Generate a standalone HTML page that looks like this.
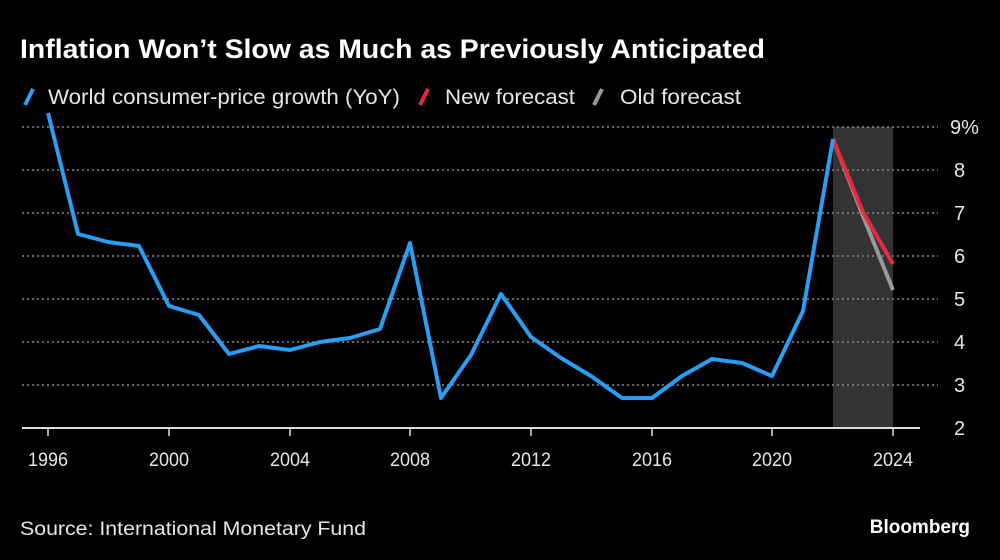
<!DOCTYPE html>
<html><head><meta charset="utf-8"><style>
body{margin:0;background:#000;width:1000px;height:560px;overflow:hidden}
svg{display:block}
text{font-family:"Liberation Sans",sans-serif;fill:#e6e6e6}
</style></head><body>
<svg width="1000" height="560" viewBox="0 0 1000 560">
<text x="20" y="58" textLength="745" lengthAdjust="spacingAndGlyphs" style="font-weight:bold;font-size:27px;fill:#fff">Inflation Won’t Slow as Much as Previously Anticipated</text>
<g font-size="21">
<line x1="25" y1="105" x2="33" y2="89" stroke="#2a9df4" stroke-width="4"/>
<text x="48" y="104" textLength="352" lengthAdjust="spacingAndGlyphs">World consumer-price growth (YoY)</text>
<line x1="420" y1="105" x2="428" y2="89" stroke="#e8283f" stroke-width="4"/>
<text x="445" y="104" textLength="130" lengthAdjust="spacingAndGlyphs">New forecast</text>
<line x1="594" y1="105" x2="602" y2="89" stroke="#999" stroke-width="4"/>
<text x="620" y="104" textLength="121" lengthAdjust="spacingAndGlyphs">Old forecast</text>
</g>
<rect x="833" y="127" width="60" height="301" fill="#333"/>
<g stroke="#888" stroke-width="1.5" stroke-dasharray="2,3">
<line x1="22" x2="938" y1="127" y2="127"/>
<line x1="22" x2="938" y1="170" y2="170"/>
<line x1="22" x2="938" y1="213" y2="213"/>
<line x1="22" x2="938" y1="256" y2="256"/>
<line x1="22" x2="938" y1="299" y2="299"/>
<line x1="22" x2="938" y1="342" y2="342"/>
<line x1="22" x2="938" y1="385" y2="385"/>
</g>
<line x1="22" x2="920" y1="428" y2="428" stroke="#ddd" stroke-width="2"/>
<g stroke="#ddd" stroke-width="1.5">
<line x1="48" x2="48" y1="428" y2="436"/><line x1="169" x2="169" y1="428" y2="436"/><line x1="290" x2="290" y1="428" y2="436"/><line x1="410" x2="410" y1="428" y2="436"/><line x1="531" x2="531" y1="428" y2="436"/><line x1="652" x2="652" y1="428" y2="436"/><line x1="772" x2="772" y1="428" y2="436"/><line x1="893" x2="893" y1="428" y2="436"/>
</g>
<g font-size="19" text-anchor="middle">
<text x="48" y="466" textLength="40" lengthAdjust="spacingAndGlyphs">1996</text><text x="169" y="466" textLength="40" lengthAdjust="spacingAndGlyphs">2000</text><text x="290" y="466" textLength="40" lengthAdjust="spacingAndGlyphs">2004</text><text x="410" y="466" textLength="40" lengthAdjust="spacingAndGlyphs">2008</text><text x="531" y="466" textLength="40" lengthAdjust="spacingAndGlyphs">2012</text><text x="652" y="466" textLength="40" lengthAdjust="spacingAndGlyphs">2016</text><text x="772" y="466" textLength="40" lengthAdjust="spacingAndGlyphs">2020</text><text x="893" y="466" textLength="40" lengthAdjust="spacingAndGlyphs">2024</text>
</g>
<g font-size="20">
<text x="950" y="134">9%</text><text x="954" y="177">8</text><text x="954" y="220">7</text><text x="954" y="263">6</text><text x="954" y="306">5</text><text x="954" y="349">4</text><text x="954" y="392">3</text><text x="954" y="435">2</text>
</g>
<polyline fill="none" stroke="#999" stroke-width="4" stroke-linejoin="round" points="833,139 863,216 893,290"/>
<polyline fill="none" stroke="#e8283f" stroke-width="4" stroke-linejoin="round" points="833,139 863,212 893,264"/>
<polyline fill="none" stroke="#2a9df4" stroke-width="4" stroke-linejoin="round" points="48,113 78,234 108,242 139,246 169,306 199,315 229,354 259,346 290,350 320,342 350,338 380,329 410,243 441,398 471,355 501,294 531,337 561,358 591,376 622,398 652,398 682,376 712,359 742,363 772,376 803,311 833,139"/>
<text x="20" y="535" textLength="346" lengthAdjust="spacingAndGlyphs" style="font-size:19px">Source: International Monetary Fund</text>
<text x="970" y="533" text-anchor="end" style="font-weight:bold;font-size:19px;fill:#fff">Bloomberg</text>
</svg>
</body></html>
